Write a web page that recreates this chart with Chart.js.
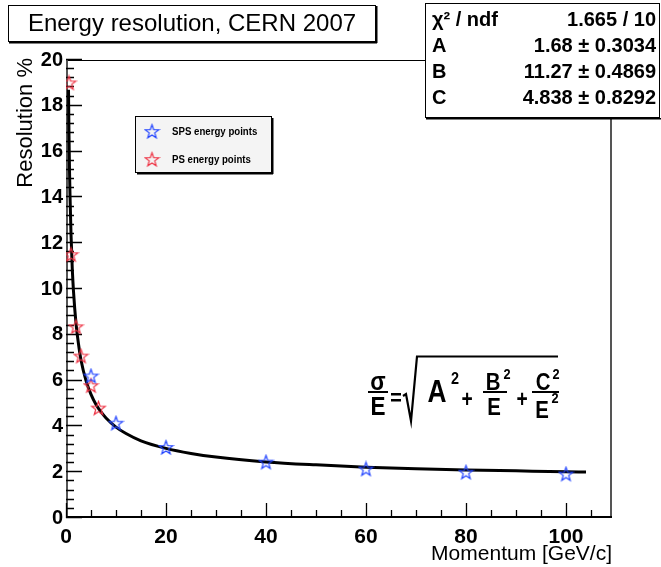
<!DOCTYPE html>
<html><head><meta charset="utf-8">
<script src="https://cdn.jsdelivr.net/npm/chart.js@4/dist/chart.umd.min.js"></script>
<style>html,body{margin:0;padding:0;background:#fff;}canvas{display:block;}</style>
</head><body>
<canvas id="c" width="661" height="567"></canvas>
<script>
// ---- data ----
const spsEnergy = [5, 10, 20, 40, 60, 80, 100];
const spsResolution = [6.2, 4.14, 3.08, 2.44, 2.14, 2.0, 1.92];
const psEnergy = [0.6, 1, 2, 3, 5, 6.5];
const psResolution = [19.0, 11.5, 8.35, 7.07, 5.78, 4.8];
const fitEnergy = [0.5, 0.6, 0.7, 0.8, 1, 1.25, 1.5, 2, 2.5, 3, 4, 5, 6, 7, 8, 10, 12, 15, 20, 25, 30, 40, 50, 60, 70, 80, 90, 100, 104];
const fitResolution = [18.7, 16.7, 15.2, 14.1, 12.4, 10.9, 9.9, 8.5, 7.6, 6.9, 6.0, 5.4, 4.96, 4.63, 4.37, 3.97, 3.69, 3.37, 3.04, 2.82, 2.66, 2.45, 2.32, 2.22, 2.15, 2.10, 2.06, 2.02, 2.01];
const xTickLabels = [0, 20, 40, 60, 80, 100];
const yTickLabels = [0, 2, 4, 6, 8, 10, 12, 14, 16, 18, 20];
const seriesNames = ['SPS energy points', 'PS energy points'];
const statNames = ['\u03C7\u00B2 / ndf', 'A', 'B', 'C'];
const statValues = ['1.665 / 10', '1.68 \u00B1 0.3034', '11.27 \u00B1 0.4869', '4.838 \u00B1 0.8292'];
const titleText = 'Energy resolution, CERN 2007';
const xTitle = 'Momentum [GeV/c]';
const yTitle = 'Resolution %';

const FONT = '"Liberation Sans", Arial, Helvetica, sans-serif';
const BLUE = '#2244ff', RED = '#ee3344';

function makeStar(color) {
  const s = 17, c = document.createElement('canvas');
  c.width = s; c.height = s;
  const g = c.getContext('2d');
  g.strokeStyle = color; g.lineWidth = 1.2; g.lineJoin = 'miter';
  g.beginPath();
  for (let i = 0; i < 10; i++) {
    const r = i % 2 ? 2.9 : 7.2;
    const a = -Math.PI / 2 + i * Math.PI / 5;
    const px = 8.5 + r * Math.cos(a), py = 9 + r * Math.sin(a);
    if (i) g.lineTo(px, py); else g.moveTo(px, py);
  }
  g.closePath(); g.stroke();
  return c;
}
const blueStar = makeStar(BLUE), redStar = makeStar(RED);

const toXY = (xs, ys) => xs.map((x, i) => ({x: x, y: ys[i]}));

function nText(ctx, txt, x, y, sx) {
  ctx.save(); ctx.translate(x, y); ctx.scale(sx, 1); ctx.fillText(txt, 0, 0); ctx.restore();
}

const decor = {
  id: 'decor',
  beforeDraw(chart) {
    const ctx = chart.ctx;
    ctx.save(); ctx.fillStyle = '#fff'; ctx.fillRect(0, 0, chart.width, chart.height); ctx.restore();
  },
  beforeDatasetsDraw(chart) {
    const ctx = chart.ctx, a = chart.chartArea;
    const xs = chart.scales.x, ys = chart.scales.y;
    ctx.save();
    ctx.strokeStyle = '#000'; ctx.lineWidth = 1;
    ctx.beginPath();
    ctx.moveTo(a.left, a.top + 0.5); ctx.lineTo(a.right, a.top + 0.5);
    ctx.stroke();
    ctx.strokeStyle = '#555'; ctx.lineWidth = 2;
    ctx.beginPath();
    ctx.moveTo(a.right - 1, a.top); ctx.lineTo(a.right - 1, a.bottom);
    ctx.moveTo(a.left + 1, a.top); ctx.lineTo(a.left + 1, a.bottom);
    ctx.stroke();
    ctx.strokeStyle = '#000'; ctx.lineWidth = 2;
    ctx.beginPath(); ctx.moveTo(a.left, a.bottom - 1); ctx.lineTo(a.right, a.bottom - 1); ctx.stroke();
    ctx.strokeStyle = '#000'; ctx.lineWidth = 1.3;
    ctx.beginPath();
    for (let k = 0; k <= 50; k++) {
      const v = k * 0.4; const major = k % 5 === 0;
      const py = Math.round(ys.getPixelForValue(v)) - 0.5;
      ctx.moveTo(a.left, py); ctx.lineTo(a.left + (major ? 16 : 8), py);
    }
    for (let v = 0; v <= 105; v += 5) {
      const major = v % 20 === 0;
      const px = Math.round(xs.getPixelForValue(v)) + 0.5;
      ctx.moveTo(px, a.bottom); ctx.lineTo(px, a.bottom - (major ? 15 : 8));
    }
    ctx.stroke();
    ctx.restore();
  },
  afterDraw(chart) {
    const ctx = chart.ctx, a = chart.chartArea;
    ctx.save();
    ctx.fillStyle = '#000'; ctx.strokeStyle = '#000';
    // title box
    ctx.fillStyle = '#fff'; ctx.fillRect(8, 5, 368, 37);
    ctx.fillStyle = '#000';
    ctx.lineWidth = 1; ctx.strokeRect(8.5, 5.5, 367, 36);
    ctx.fillRect(9, 42, 368, 1.5); ctx.fillRect(376, 6, 1.5, 37);
    ctx.font = '24px ' + FONT; ctx.textAlign = 'center'; ctx.textBaseline = 'middle';
    ctx.fillText(titleText, 192, 24);
    // stats box
    ctx.fillStyle = '#fff'; ctx.fillRect(425, 3, 235, 115);
    ctx.fillStyle = '#000';
    ctx.strokeRect(425.5, 3.5, 234, 114);
    ctx.fillRect(426, 118, 235, 1.5);
    ctx.font = 'bold 20px ' + FONT; ctx.textBaseline = 'middle';
    const rows = [20, 46, 72, 98];
    statNames.forEach((n, i) => {
      ctx.textAlign = 'left'; ctx.fillText(n, 432, rows[i]);
      ctx.textAlign = 'right'; ctx.fillText(statValues[i], 656, rows[i]);
    });
    // legend
    ctx.fillStyle = '#f4f4f4'; ctx.fillRect(135, 116, 137, 57);
    ctx.fillStyle = '#000'; ctx.strokeRect(135.5, 116.5, 136, 56);
    ctx.fillRect(137, 173, 136, 1.5); ctx.fillRect(272, 118, 1.5, 56);
    const legendStars = [blueStar, redStar];
    const ly = [132, 160];
    ctx.font = 'bold 10.5px ' + FONT; ctx.textAlign = 'left'; ctx.textBaseline = 'middle';
    chart.data.datasets.slice(0, 2).forEach((ds, i) => {
      ctx.drawImage(legendStars[i], 152 - 8.5, ly[i] - 9);
      nText(ctx, ds.label, 172, ly[i], 0.92);
    });
    // axis titles
    ctx.font = '21px ' + FONT;
    ctx.textAlign = 'right'; ctx.textBaseline = 'alphabetic';
    ctx.fillText(xTitle, a.right, 560);
    ctx.save(); ctx.translate(32, a.top - 2); ctx.rotate(-Math.PI / 2);
    ctx.textAlign = 'right'; ctx.font = '22px ' + FONT;
    ctx.fillText(yTitle, 0, 0);
    ctx.restore();
    // formula
    ctx.textAlign = 'center'; ctx.textBaseline = 'alphabetic';
    ctx.font = 'bold 25px ' + FONT;
    nText(ctx, '\u03C3', 378, 390, 0.9);
    nText(ctx, 'E', 378, 415, 0.9);
    ctx.fillRect(368, 391, 20, 2);
    ctx.fillRect(391, 393, 10, 2.5);
    ctx.fillRect(391, 399, 10, 2.5);
    ctx.lineWidth = 2.2; ctx.lineJoin = 'miter';
    ctx.beginPath(); ctx.moveTo(403, 396); ctx.lineTo(406, 394); ctx.lineTo(411, 421); ctx.lineTo(417, 356.5); ctx.lineTo(558, 356.5); ctx.stroke();
    ctx.font = 'bold 31px ' + FONT;
    nText(ctx, 'A', 437, 402, 0.85);
    ctx.font = 'bold 17px ' + FONT;
    nText(ctx, '2', 455, 384, 0.85);
    ctx.font = 'bold 24px ' + FONT;
    nText(ctx, '+', 467, 407, 0.8);
    nText(ctx, '+', 522, 407, 0.8);
    nText(ctx, 'B', 493, 390, 0.85);
    nText(ctx, 'E', 494, 415, 0.85);
    nText(ctx, 'C', 543, 390, 0.85);
    nText(ctx, 'E', 542, 418, 0.85);
    ctx.font = 'bold 15px ' + FONT;
    nText(ctx, '2', 507, 379, 0.85);
    nText(ctx, '2', 556, 379, 0.85);
    nText(ctx, '2', 555, 403, 0.85);
    ctx.fillRect(483, 391, 24, 2);
    ctx.fillRect(532, 391, 27, 2);
    ctx.restore();
  }
};

new Chart(document.getElementById('c'), {
  type: 'scatter',
  data: {
    datasets: [
      {label: seriesNames[0], data: toXY(spsEnergy, spsResolution), pointStyle: blueStar, pointRadius: 8, order: 1},
      {label: seriesNames[1], data: toXY(psEnergy, psResolution), pointStyle: redStar, pointRadius: 8, order: 2},
      {label: 'fit', type: 'line', data: toXY(fitEnergy, fitResolution), borderColor: '#000', borderWidth: 3,
       pointRadius: 0, cubicInterpolationMode: 'monotone', fill: false, order: 3}
    ]
  },
  options: {
    responsive: false, animation: false, devicePixelRatio: 1,
    events: [],
    layout: {padding: {left: 0, right: 49, top: 60, bottom: 0}},
    plugins: {legend: {display: false}, tooltip: {enabled: false}, title: {display: false}},
    scales: {
      x: {
        type: 'linear', min: 0, max: 109.2,
        grid: {display: false, drawTicks: false}, border: {display: false},
        afterFit(s) { s.height = 49; },
        afterBuildTicks(s) { s.ticks = xTickLabels.map(v => ({value: v})); },
        ticks: {font: {family: FONT, size: 21, weight: 'bold'}, color: '#000', padding: 7, maxRotation: 0, autoSkip: false}
      },
      y: {
        type: 'linear', min: 0, max: 20,
        grid: {display: false, drawTicks: false}, border: {display: false},
        afterFit(s) { s.width = 66; },
        afterBuildTicks(s) { s.ticks = yTickLabels.map(v => ({value: v})); },
        ticks: {font: {family: FONT, size: 20, weight: 'bold'}, color: '#000', padding: 3, autoSkip: false}
      }
    }
  },
  plugins: [decor]
});
</script>
</body></html>
